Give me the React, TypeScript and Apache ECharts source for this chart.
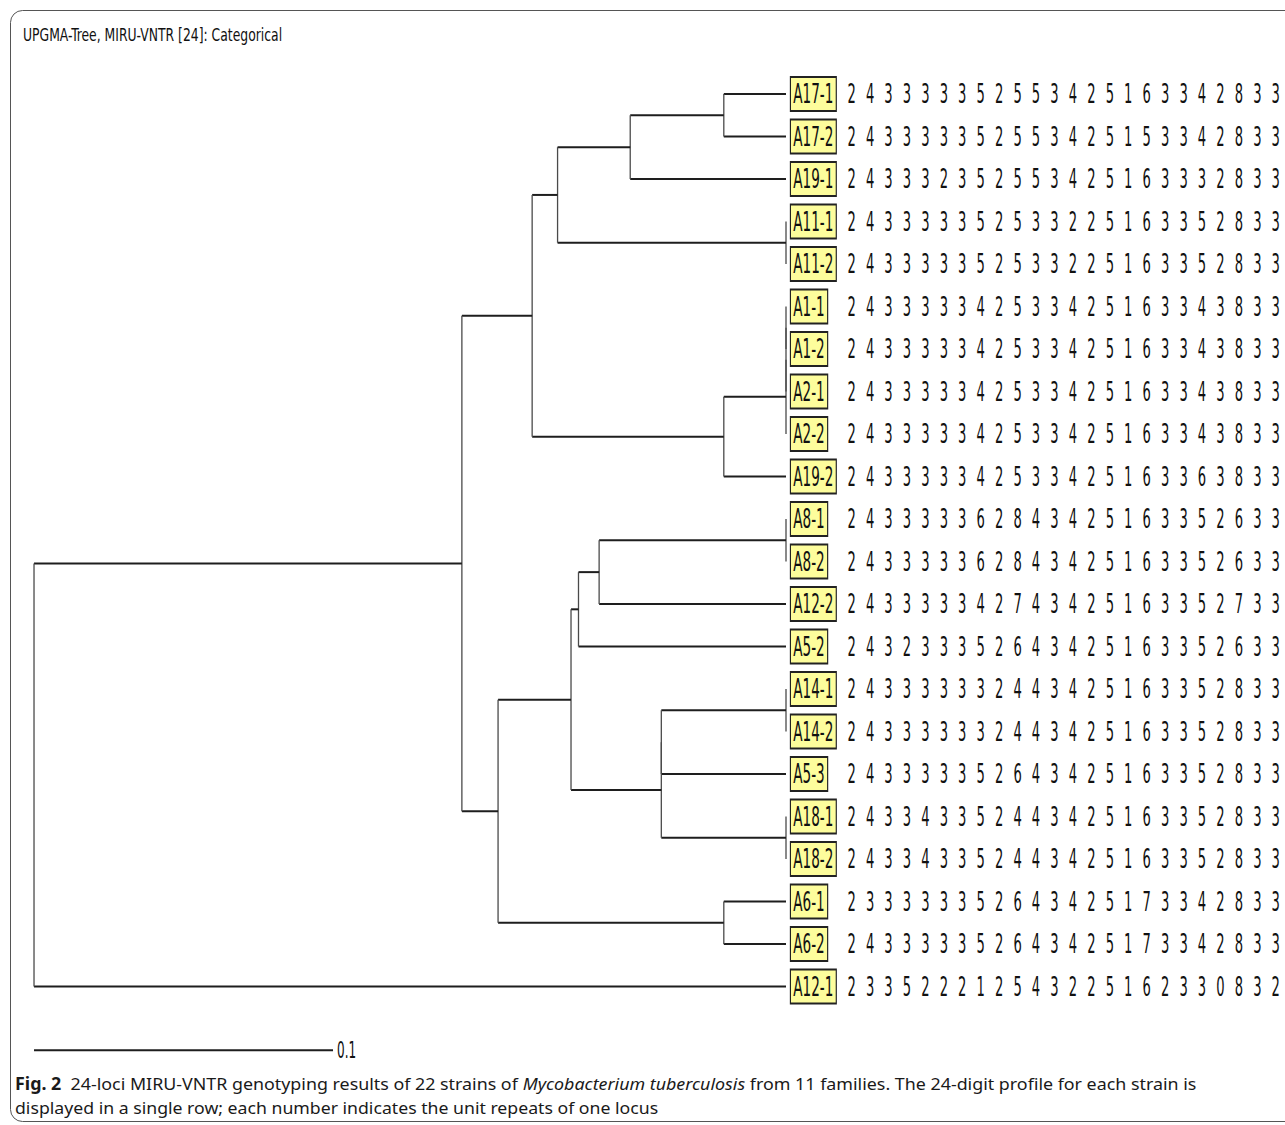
import React, { useEffect, useRef } from "react";
import * as echarts from "echarts";

// ---------------- data ----------------
const TITLE = "UPGMA-Tree, MIRU-VNTR [24]: Categorical";

const strains = [
  "A17-1", "A17-2", "A19-1", "A11-1", "A11-2", "A1-1", "A1-2", "A2-1", "A2-2", "A19-2",
  "A8-1", "A8-2", "A12-2", "A5-2", "A14-1", "A14-2", "A5-3", "A18-1", "A18-2", "A6-1",
  "A6-2", "A12-1",
];

const profiles = [
  "2 4 3 3 3 3 3 5 2 5 5 3 4 2 5 1 6 3 3 4 2 8 3 3",
  "2 4 3 3 3 3 3 5 2 5 5 3 4 2 5 1 5 3 3 4 2 8 3 3",
  "2 4 3 3 3 2 3 5 2 5 5 3 4 2 5 1 6 3 3 3 2 8 3 3",
  "2 4 3 3 3 3 3 5 2 5 3 3 2 2 5 1 6 3 3 5 2 8 3 3",
  "2 4 3 3 3 3 3 5 2 5 3 3 2 2 5 1 6 3 3 5 2 8 3 3",
  "2 4 3 3 3 3 3 4 2 5 3 3 4 2 5 1 6 3 3 4 3 8 3 3",
  "2 4 3 3 3 3 3 4 2 5 3 3 4 2 5 1 6 3 3 4 3 8 3 3",
  "2 4 3 3 3 3 3 4 2 5 3 3 4 2 5 1 6 3 3 4 3 8 3 3",
  "2 4 3 3 3 3 3 4 2 5 3 3 4 2 5 1 6 3 3 4 3 8 3 3",
  "2 4 3 3 3 3 3 4 2 5 3 3 4 2 5 1 6 3 3 6 3 8 3 3",
  "2 4 3 3 3 3 3 6 2 8 4 3 4 2 5 1 6 3 3 5 2 6 3 3",
  "2 4 3 3 3 3 3 6 2 8 4 3 4 2 5 1 6 3 3 5 2 6 3 3",
  "2 4 3 3 3 3 3 4 2 7 4 3 4 2 5 1 6 3 3 5 2 7 3 3",
  "2 4 3 2 3 3 3 5 2 6 4 3 4 2 5 1 6 3 3 5 2 6 3 3",
  "2 4 3 3 3 3 3 3 2 4 4 3 4 2 5 1 6 3 3 5 2 8 3 3",
  "2 4 3 3 3 3 3 3 2 4 4 3 4 2 5 1 6 3 3 5 2 8 3 3",
  "2 4 3 3 3 3 3 5 2 6 4 3 4 2 5 1 6 3 3 5 2 8 3 3",
  "2 4 3 3 4 3 3 5 2 4 4 3 4 2 5 1 6 3 3 5 2 8 3 3",
  "2 4 3 3 4 3 3 5 2 4 4 3 4 2 5 1 6 3 3 5 2 8 3 3",
  "2 3 3 3 3 3 3 5 2 6 4 3 4 2 5 1 7 3 3 4 2 8 3 3",
  "2 4 3 3 3 3 3 5 2 6 4 3 4 2 5 1 7 3 3 4 2 8 3 3",
  "2 3 3 5 2 2 2 1 2 5 4 3 2 2 5 1 6 2 3 3 0 8 3 2",
];

const loci = [
  "1", "2", "3", "4", "5", "6", "7", "8", "9", "10", "11", "12",
  "13", "14", "15", "16", "17", "18", "19", "20", "21", "22", "23", "24",
];

// UPGMA clusters: [name, child A, child B, node height (distance units)]
const clusters: [string, string, string, number][] = [
  ["n1", "A17-1", "A17-2", 0.0208],
  ["n2", "n1", "A19-1", 0.0521],
  ["n3", "A11-1", "A11-2", 0],
  ["n4", "n2", "n3", 0.0764],
  ["n5", "A1-1", "A1-2", 0],
  ["n6", "n5", "A2-1", 0],
  ["n7", "n6", "A2-2", 0],
  ["n8", "n7", "A19-2", 0.0208],
  ["n9", "n4", "n8", 0.0849],
  ["n10", "A8-1", "A8-2", 0],
  ["n11", "n10", "A12-2", 0.0625],
  ["n12", "n11", "A5-2", 0.0694],
  ["n13", "A14-1", "A14-2", 0],
  ["n14", "n13", "A5-3", 0.0417],
  ["n15", "A18-1", "A18-2", 0],
  ["n16", "n14", "n15", 0.0417],
  ["n17", "n12", "n16", 0.0719],
  ["n18", "A6-1", "A6-2", 0.0208],
  ["n19", "n17", "n18", 0.0963],
  ["n20", "n9", "n19", 0.1084],
  ["root", "n20", "A12-1", 0.2515],
];

const scaleBarLength = 0.1;
const scaleBarLabel = "0.1";

const captionLine1Parts = [
  "Fig. 2",
  "\u00a0\u00a024-loci MIRU-VNTR genotyping results of 22 strains of ",
  "Mycobacterium tuberculosis",
  " from 11 families. The 24-digit profile for each strain is",
];
const captionLine2 = "displayed in a single row; each number indicates the unit repeats of one locus";

// ---------------- derived ----------------
const yOf: Record<string, number> = {};
const hOf: Record<string, number> = {};
strains.forEach((s, i) => {
  yOf[s] = i;
  hOf[s] = 0;
});
const edges: number[][] = [];
clusters.forEach(([name, a, b, h]) => {
  yOf[name] = (yOf[a] + yOf[b]) / 2;
  hOf[name] = h;
  edges.push([h, yOf[a], hOf[a], yOf[a], 0]);
  edges.push([h, yOf[b], hOf[b], yOf[b], 0]);
  edges.push([h, yOf[a], h, yOf[b], 1]);
});
const rootHeight = hOf["root"];

const digitData: number[][] = [];
profiles.forEach((p, row) => {
  p.split(" ").forEach((d, col) => {
    digitData.push([col, row, Number(d)]);
  });
});

const leafData = strains.map((_, i) => [0, i]);

// ---------------- layout ----------------
const PX_PER_UNIT = 2990;
const X_MAX = 0.26;
const LEAF_X = 786;
const ROW_PX = 42.5;
const Y_MIN = -1.5;
const Y_MAX = 24;
const GRID_TOP = 94 - (0 - Y_MIN) * ROW_PX;
const GRID_H = (Y_MAX - Y_MIN) * ROW_PX;
const SCALE_ROW = 22.5;

const COND = "'DejaVu Sans Condensed', 'DejaVu Sans', sans-serif";
const CAP_FONT = "'Noto Sans', 'Open Sans', sans-serif";
const CAP_SIZE = 17;

export default function App() {
  const ref = useRef<HTMLDivElement>(null);

  useEffect(() => {
    if (!ref.current) return;
    const chart = echarts.init(ref.current, undefined, { renderer: "svg" });

    const option: any = {
      animation: false,
      backgroundColor: "#ffffff",
      grid: [
        { left: LEAF_X - X_MAX * PX_PER_UNIT, width: X_MAX * PX_PER_UNIT, top: GRID_TOP, height: GRID_H },
        { left: 842.4, width: 444.8, top: GRID_TOP, height: GRID_H },
      ],
      xAxis: [
        { type: "value", gridIndex: 0, min: 0, max: X_MAX, inverse: true, show: false },
        { type: "category", gridIndex: 1, data: loci, show: false },
      ],
      yAxis: [
        { type: "value", gridIndex: 0, min: Y_MIN, max: Y_MAX, inverse: true, show: false },
        { type: "value", gridIndex: 1, min: Y_MIN, max: Y_MAX, inverse: true, show: false },
      ],
      series: [
        {
          type: "custom",
          name: "tree",
          xAxisIndex: 0,
          yAxisIndex: 0,
          silent: true,
          clip: false,
          data: edges,
          renderItem: (_params: any, api: any) => {
            const p1 = api.coord([api.value(0), api.value(1)]);
            const p2 = api.coord([api.value(2), api.value(3)]);
            const vertical = api.value(4) === 1;
            return {
              type: "line",
              shape: { x1: p1[0], y1: p1[1], x2: p2[0], y2: p2[1] },
              style: {
                stroke: vertical ? "#4a4a4a" : "#1e1e1e",
                lineWidth: vertical ? 1.3 : 2,
              },
            };
          },
        },
        {
          type: "custom",
          name: "scale",
          xAxisIndex: 0,
          yAxisIndex: 0,
          silent: true,
          clip: false,
          data: [[rootHeight, SCALE_ROW, rootHeight - scaleBarLength, SCALE_ROW]],
          renderItem: (_params: any, api: any) => {
            const p1 = api.coord([api.value(0), api.value(1)]);
            const p2 = api.coord([api.value(2), api.value(3)]);
            return {
              type: "group",
              children: [
                {
                  type: "line",
                  shape: { x1: p1[0], y1: p1[1], x2: p2[0], y2: p2[1] },
                  style: { stroke: "#1e1e1e", lineWidth: 2 },
                },
                {
                  type: "text",
                  x: p2[0] + 4,
                  y: p2[1],
                  scaleX: 0.58,
                  style: {
                    text: scaleBarLabel,
                    fontSize: 23,
                    fontFamily: COND,
                    fill: "#111",
                    align: "left",
                    verticalAlign: "middle",
                  },
                },
              ],
            };
          },
        },
        {
          type: "custom",
          name: "labels",
          xAxisIndex: 0,
          yAxisIndex: 0,
          silent: true,
          clip: false,
          data: leafData,
          renderItem: (params: any, api: any) => {
            const p = api.coord([api.value(0), api.value(1)]);
            return {
              type: "text",
              x: p[0] + 5,
              y: p[1],
              scaleX: 0.58,
              style: {
                text: strains[params.dataIndex],
                fontSize: 26,
                fontFamily: COND,
                fill: "#111",
                align: "left",
                verticalAlign: "middle",
                lineHeight: 26,
                backgroundColor: "#fdfd9c",
                borderColor: "#222",
                borderWidth: 2,
                padding: [3, 4, 3, 4],
              },
            };
          },
        },
        {
          type: "custom",
          name: "profiles",
          xAxisIndex: 1,
          yAxisIndex: 1,
          silent: true,
          clip: false,
          data: digitData,
          renderItem: (_params: any, api: any) => {
            const p = api.coord([api.value(0), api.value(1)]);
            return {
              type: "text",
              x: p[0],
              y: p[1],
              scaleX: 0.56,
              style: {
                text: String(api.value(2)),
                fontSize: 26,
                fontFamily: COND,
                fill: "#111",
                align: "center",
                verticalAlign: "middle",
              },
            };
          },
        },
      ],
      graphic: [
        {
          type: "rect",
          silent: true,
          shape: { x: 10.5, y: 10.5, width: 1300, height: 1111, r: 12 },
          style: { fill: "none", stroke: "#555", lineWidth: 1 },
        },
        {
          type: "text",
          x: 23,
          y: 35,
          scaleX: 0.765,
          style: {
            text: TITLE,
            fontSize: 18,
            fontFamily: COND,
            fill: "#111",
            align: "left",
            verticalAlign: "middle",
          },
        },
        {
          type: "text",
          x: 15,
          y: 1083,
          scaleX: 1.05,
          style: {
            text:
              "{b|" + captionLine1Parts[0] + "}" +
              captionLine1Parts[1] +
              "{i|" + captionLine1Parts[2] + "}" +
              captionLine1Parts[3],
            fontSize: CAP_SIZE,
            fontFamily: CAP_FONT,
            fill: "#1a1a1a",
            align: "left",
            verticalAlign: "middle",
            rich: {
              b: { fontSize: CAP_SIZE, fontFamily: CAP_FONT, fontWeight: "bold", fill: "#1a1a1a" },
              i: { fontSize: CAP_SIZE, fontFamily: CAP_FONT, fontStyle: "italic", fill: "#1a1a1a" },
            },
          },
        },
        {
          type: "text",
          x: 15,
          y: 1107,
          scaleX: 1.04,
          style: {
            text: captionLine2,
            fontSize: CAP_SIZE,
            fontFamily: CAP_FONT,
            fill: "#1a1a1a",
            align: "left",
            verticalAlign: "middle",
          },
        },
      ],
    };

    chart.setOption(option);
    return () => {
      chart.dispose();
    };
  }, []);

  return (
    <div
      ref={ref}
      style={{ position: "absolute", left: 0, top: 0, width: 1285, height: 1125 }}
    />
  );
}
